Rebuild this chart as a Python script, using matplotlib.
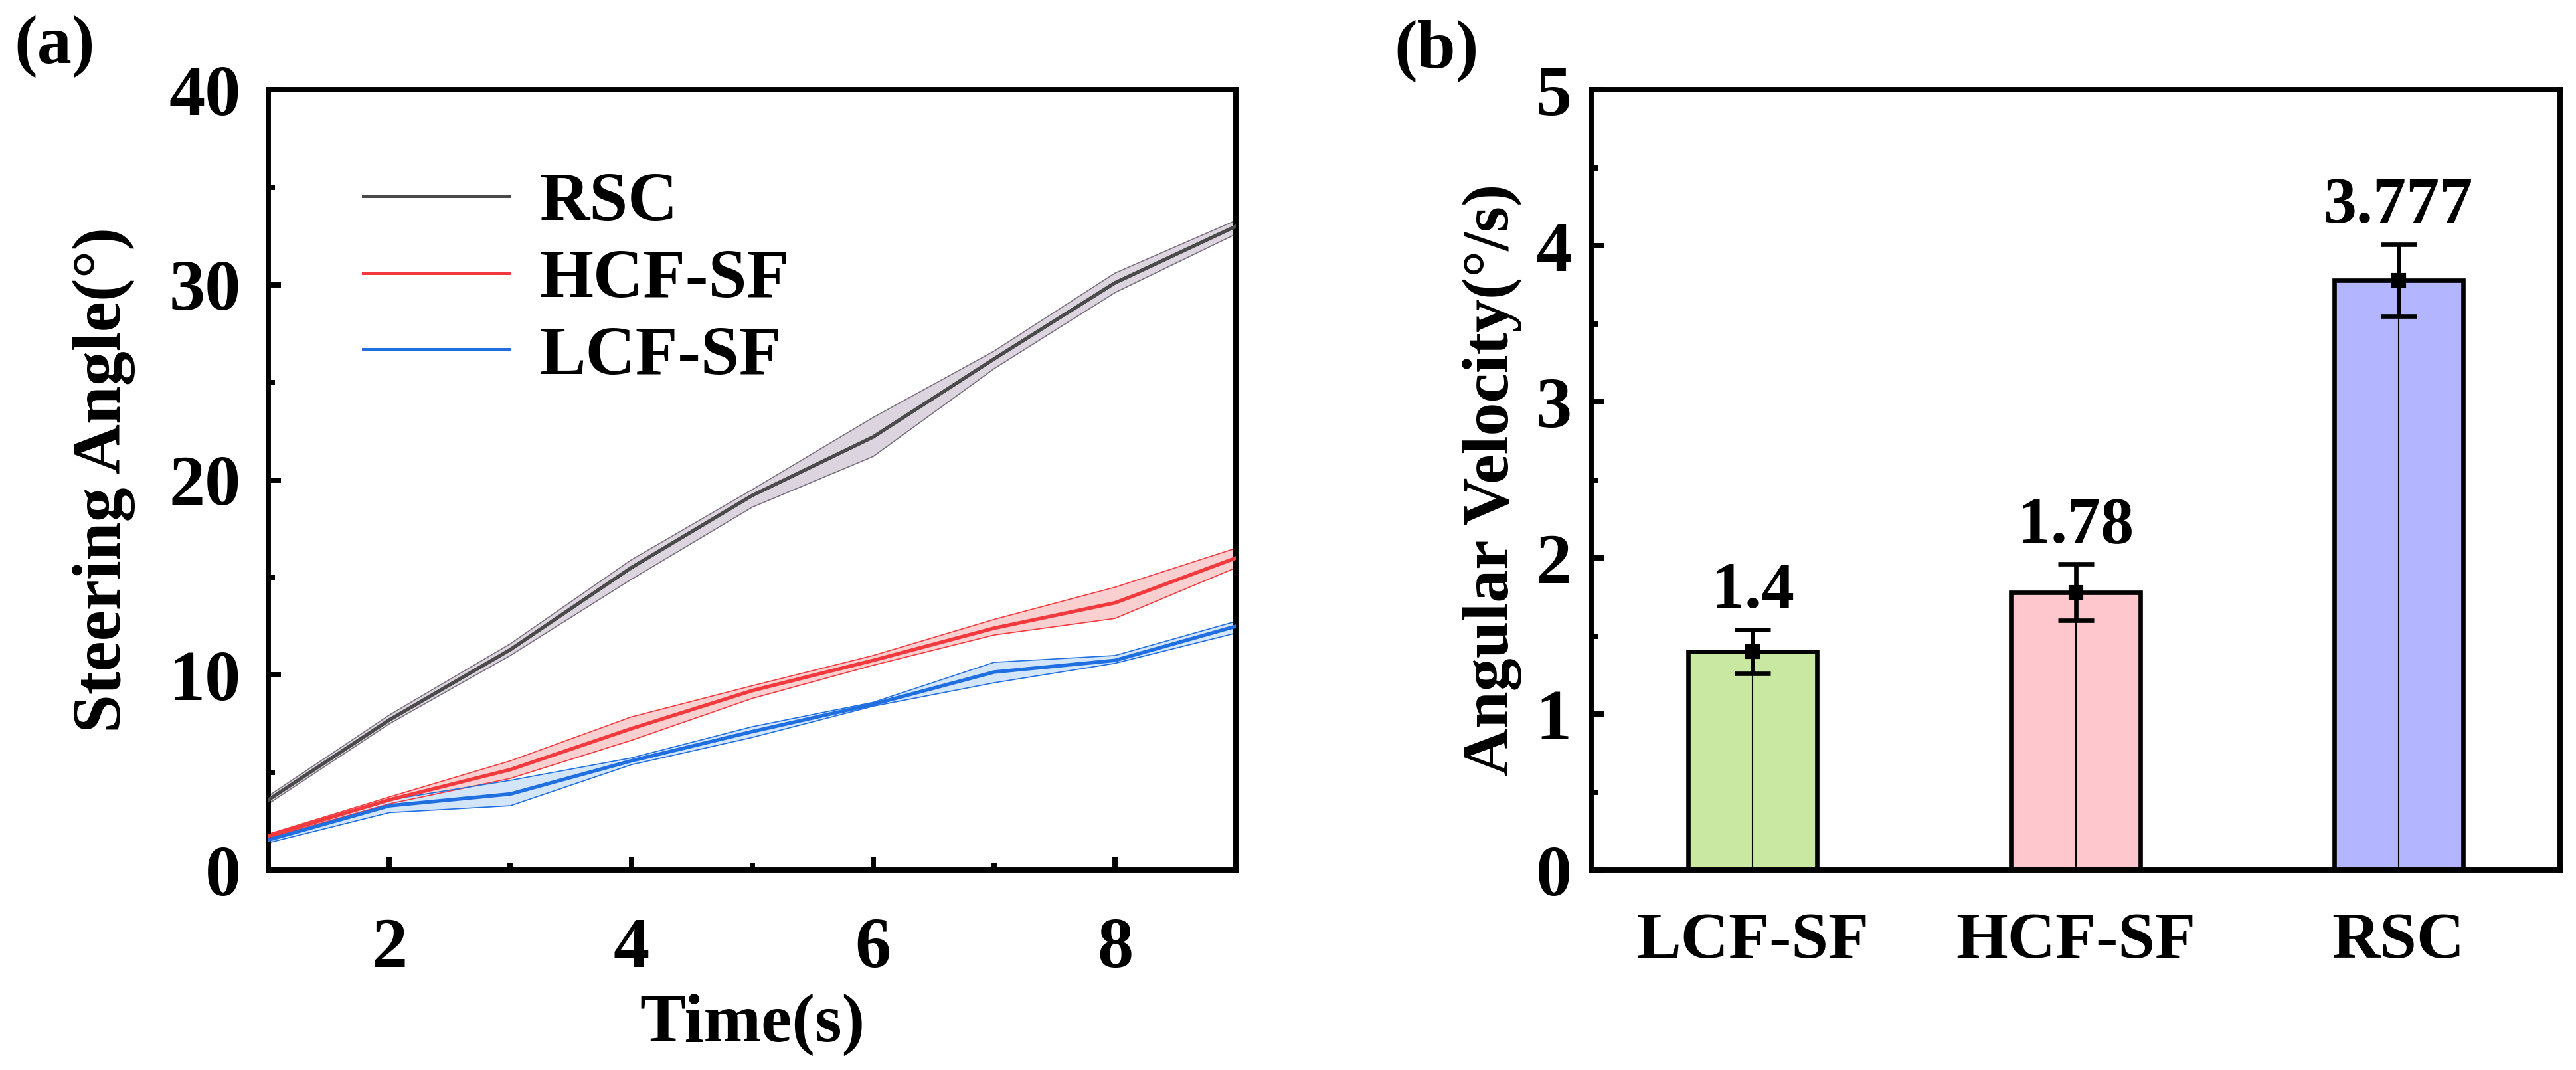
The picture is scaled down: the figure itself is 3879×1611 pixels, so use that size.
import numpy as np
import matplotlib
matplotlib.use("Agg")
import matplotlib.pyplot as plt
from matplotlib.ticker import MultipleLocator
from matplotlib.transforms import ScaledTranslation

plt.rcParams['font.family'] = ['Liberation Serif', 'DejaVu Serif']
plt.rcParams['font.weight'] = 'bold'
plt.rcParams['axes.labelweight'] = 'bold'

# panel (a): steering angle over time
time_s = [1, 2, 3, 4, 5, 6, 7, 8, 9]

rsc_mean = [3.6, 7.7, 11.3, 15.5, 19.2, 22.2, 26.2, 30.1, 33.0]
rsc_low = [3.4, 7.5, 11.0, 14.9, 18.6, 21.2, 25.7, 29.6, 32.6]
rsc_high = [3.8, 7.95, 11.6, 15.9, 19.5, 23.2, 26.6, 30.6, 33.3]

hcf_mean = [1.75, 3.6, 5.15, 7.25, 9.2, 10.75, 12.4, 13.7, 16.0]
hcf_low = [1.65, 3.4, 4.7, 6.65, 8.8, 10.5, 12.05, 12.9, 15.5]
hcf_high = [1.85, 3.75, 5.6, 7.85, 9.45, 11.0, 12.85, 14.5, 16.5]

lcf_mean = [1.55, 3.3, 3.9, 5.6, 7.1, 8.5, 10.15, 10.75, 12.5]
lcf_low = [1.4, 2.95, 3.3, 5.4, 6.8, 8.4, 9.6, 10.6, 12.15]
lcf_high = [1.7, 3.6, 4.6, 5.75, 7.35, 8.6, 10.65, 11.0, 12.75]

# panel (b): angular velocity
groups = ["LCF-SF", "HCF-SF", "RSC"]
velocity = [1.4, 1.78, 3.777]
velocity_err = [0.14, 0.18, 0.23]
value_labels = ["1.4", "1.78", "3.777"]

fig = plt.figure(figsize=(3879 / 300, 1611 / 300), dpi=300)
ax1 = fig.add_axes([0.1042, 0.1868, 0.3756, 0.7294])
ax2 = fig.add_axes([0.6177, 0.1868, 0.3761, 0.7294])

series = [
    ("RSC", rsc_mean, rsc_low, rsc_high, "#4a4a4a", "#dcd4de", "#7a6f7d"),
    ("HCF-SF", hcf_mean, hcf_low, hcf_high, "#f2393d", "#f9cfd0", "#f2393d"),
    ("LCF-SF", lcf_mean, lcf_low, lcf_high, "#1f6fe0", "#d3e5f8", "#1f6fe0"),
]
for name, mean, low, high, col, fill, edge in series:
    ax1.fill_between(time_s, low, high, color=fill, lw=0, zorder=1)
    ax1.plot(time_s, low, color=edge, lw=0.4, zorder=2)
    ax1.plot(time_s, high, color=edge, lw=0.4, zorder=2)
    ax1.plot(time_s, mean, color=col, lw=1.3, label=name, zorder=3)

ax1.set_xlim(1, 9)
ax1.set_ylim(0, 40)
ax1.xaxis.set_major_locator(MultipleLocator(2))
ax1.xaxis.set_minor_locator(MultipleLocator(1))
ax1.yaxis.set_major_locator(MultipleLocator(10))
ax1.yaxis.set_minor_locator(MultipleLocator(5))
ax1.set_xlabel("Time(s)", fontsize=25, labelpad=4)
ax1.set_ylabel("Steering Angle(°)", fontsize=25, labelpad=12)
ax1.tick_params(axis='x', which='major', pad=17)
ax1.tick_params(axis='y', which='major', pad=10)

leg = ax1.legend(loc='upper left', bbox_to_anchor=(0.098, 0.895), frameon=False,
                 fontsize=25, handlelength=2.1, handletextpad=0.45,
                 labelspacing=0.2, borderpad=0, borderaxespad=0)
for h in leg.get_lines():
    h.set_linewidth(1.2)

# left y tick labels sit a bit below their ticks in the original
for lbl in ax1.get_yticklabels():
    lbl.set_transform(lbl.get_transform() + ScaledTranslation(0, -8 / 72, fig.dpi_scale_trans))

bar_colors = ["#c9e9a3", "#fec7cd", "#b3b5fe"]
xpos = np.arange(len(groups))
ax2.bar(xpos, velocity, width=0.4, color=bar_colors, edgecolor='black', linewidth=1.6, zorder=2)
ax2.vlines(xpos, 0, velocity, color='black', lw=0.5, zorder=3)
ax2.errorbar(xpos, velocity, yerr=velocity_err, fmt='s', color='black', ms=4.5,
             elinewidth=1.6, capsize=6.5, capthick=1.6, zorder=4)
for x, v, e, txt in zip(xpos, velocity, velocity_err, value_labels):
    ax2.annotate(txt, (x, v + e), xytext=(0, 3), textcoords='offset points',
                 ha='center', va='bottom', fontsize=24, fontweight='bold')

ax2.set_xlim(-0.5, 2.5)
ax2.set_ylim(0, 5)
ax2.set_xticks(xpos)
ax2.set_xticklabels(groups, fontsize=24)
ax2.yaxis.set_major_locator(MultipleLocator(1))
ax2.yaxis.set_minor_locator(MultipleLocator(0.5))
ax2.set_ylabel("Angular Velocity(°/s)", fontsize=24, labelpad=5)
ax2.tick_params(axis='x', which='both', length=0, pad=15)
ax2.tick_params(axis='y', which='major', pad=7)

for ax in (ax1, ax2):
    for sp in ax.spines.values():
        sp.set_linewidth(1.9)
    ax.tick_params(which='major', direction='in', length=4.5, width=1.9, labelsize=26)
    ax.tick_params(which='minor', direction='in', length=2.5, width=1.9)
    ax.tick_params(top=False, right=False, which='both')
ax2.tick_params(axis='x', labelsize=24)

fig.text(82 / 3879, 1 - 70 / 1611, "(a)", fontsize=25, fontweight='bold', ha='center', va='center')
fig.text(2163 / 3879, 1 - 77 / 1611, "(b)", fontsize=25, fontweight='bold', ha='center', va='center')

fig.savefig("out.png", dpi=300)
